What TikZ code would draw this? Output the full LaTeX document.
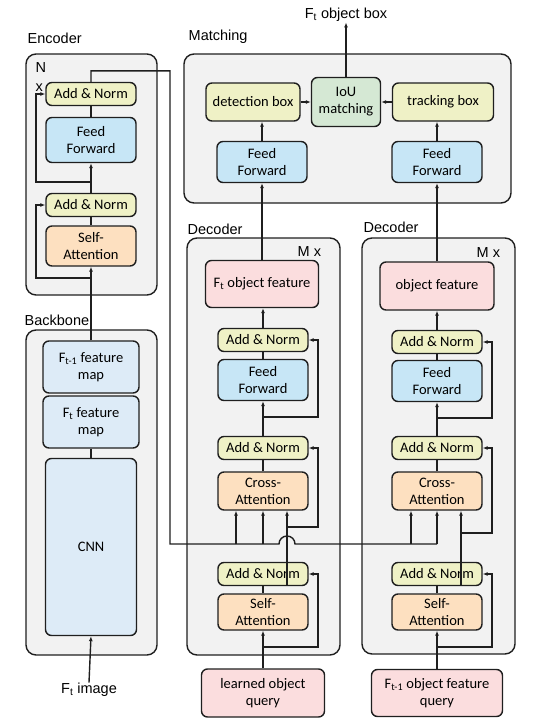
\documentclass[tikz,border=0pt]{standalone}
\usepackage{fontspec}
\setmainfont{Carlito}
\newfontfamily\labfont{Liberation Sans}
\usetikzlibrary{arrows.meta}
\definecolor{lineblk}{HTML}{1F1F1F}
\definecolor{grpgrey}{HTML}{F2F2F2}
\definecolor{anyellow}{HTML}{EFF1C6}
\definecolor{ffblue}{HTML}{C7E6F6}
\definecolor{attpeach}{HTML}{FDE0C0}
\definecolor{mapblue}{HTML}{DDEBF7}
\definecolor{featpink}{HTML}{FBDDDE}
\definecolor{iougreen}{HTML}{D5E8D4}

\begin{document}
\begin{tikzpicture}[x=1pt,y=-1pt,line width=1.4pt,draw=lineblk,
  every node/.style={font=\fontsize{14.5}{17}\selectfont,align=center,text=black},
  group/.style={draw=lineblk,fill=grpgrey,rounded corners=10pt,inner sep=0pt},
  grouplabel/.style={font=\labfont\fontsize{14.5}{19}\selectfont,anchor=west,inner sep=0pt},
  box/.style={draw=lineblk,rounded corners=6pt,inner sep=0pt,minimum width=90pt},
  addnorm/.style={box,fill=anyellow,minimum height=23pt},
  ffwd/.style={box,fill=ffblue,minimum height=41pt},
  attn/.style={box,fill=attpeach,minimum height=38pt},
  fmap/.style={box,fill=mapblue,minimum width=96pt,minimum height=52pt},
  feat/.style={box,fill=featpink,minimum height=47pt},
  arr/.style={-{Latex[length=5pt,width=4pt]}}]
\useasboundingbox (0,0) rectangle (554,728);

% containers
\node[group,minimum width=131pt,minimum height=241pt] (enc) at (91.5,174.5) {};
\node[group,minimum width=131pt,minimum height=325pt] (bb) at (91.5,492.5) {};
\node[group,minimum width=327pt,minimum height=149pt] (match) at (347.5,128.5) {};
\node[group,minimum width=153pt,minimum height=417pt] (decl) at (263.5,446.5) {};
\node[group,minimum width=153pt,minimum height=416pt] (decr) at (438.5,446) {};

\node[grouplabel] (enclab) at (27,38) {Encoder};
\node[grouplabel] (bblab) at (24,320) {Backbone};
\node[grouplabel] (matchlab) at (188,37) {Matching};
\node[grouplabel] (decllab) at (187,229) {Decoder};
\node[grouplabel] (decrlab) at (363,227) {Decoder};
\node[grouplabel,align=left,anchor=north west] (encn) at (35,62) {N\\x};
\node[grouplabel] (declm) at (297,252) {M x};
\node[grouplabel] (decrm) at (476,253) {M x};

% encoder
\node[addnorm] (encan2) at (91,94) {Add \& Norm};
\node[ffwd,minimum height=45pt] (encff) at (91,140) {Feed\\Forward};
\node[addnorm] (encan1) at (91,205) {Add \& Norm};
\node[attn,minimum height=40pt] (encsa) at (91,246) {Self-\\Attention};

% backbone
\node[fmap] (fm1) at (91,367) {F\textsubscript{t-1} feature\\map};
\node[fmap] (fm0) at (91,422) {F\textsubscript{t} feature\\map};
\node[box,fill=mapblue,minimum width=91pt,minimum height=177pt] (cnn) at (91,547) {CNN};
\node[grouplabel,anchor=center] (img) at (89,690) {F\textsubscript{t} image};

% matching
\node[box,fill=anyellow,minimum width=94pt,minimum height=38pt] (det) at (253,102) {detection box};
\node[box,fill=iougreen,minimum width=69pt,minimum height=49pt] (iou) at (346,102) {IoU\\matching};
\node[box,fill=anyellow,minimum width=101pt,minimum height=38pt] (trk) at (443,102) {tracking box};
\node[ffwd] (mffl) at (262,162) {Feed\\Forward};
\node[ffwd] (mffr) at (437,162) {Feed\\Forward};
\node[grouplabel,anchor=center] (outbox) at (346,15) {F\textsubscript{t} object box};

% left decoder
\node[feat,minimum width=113pt] (lof) at (262,284) {F\textsubscript{t} object feature};
\node[addnorm] (lan1) at (263,340) {Add \& Norm};
\node[ffwd] (lff) at (263,380) {Feed\\Forward};
\node[addnorm] (lan2) at (263,448) {Add \& Norm};
\node[attn] (lca) at (263,491) {Cross-\\Attention};
\node[addnorm] (lan3) at (263,574) {Add \& Norm};
\node[attn,minimum height=36pt] (lsa) at (263,612) {Self-\\Attention};
\node[feat,minimum width=123pt,minimum height=48pt] (lq) at (263,693) {learned object\\query};

% right decoder
\node[feat,minimum width=114pt,minimum height=48pt] (rof) at (437,286) {object feature};
\node[addnorm] (ran1) at (437,342) {Add \& Norm};
\node[ffwd] (rff) at (437,381) {Feed\\Forward};
\node[addnorm] (ran2) at (437,448) {Add \& Norm};
\node[attn] (rca) at (437,491) {Cross-\\Attention};
\node[addnorm] (ran3) at (437,574) {Add \& Norm};
\node[attn,minimum height=36pt] (rsa) at (437,612) {Self-\\Attention};
\node[feat,minimum width=131pt] (rq) at (437,693) {F\textsubscript{t-1} object feature\\query};

% residual taps and bus
\coordinate (encr1) at (91,278);
\coordinate (encr2) at (91,182);
\coordinate (bus) at (170,544);
\coordinate (lt1) at (236,544);
\coordinate (lt2) at (263,544);
\coordinate (rt1) at (411,544);
\coordinate (rt2) at (437,544);
\coordinate (lx) at (287,585.5);
\coordinate (rx) at (461,585.5);
\coordinate (lr1) at (263,417);
\coordinate (lr2) at (287,527);
\coordinate (lr3) at (263,647);
\coordinate (rr1) at (437,418);
\coordinate (rr2) at (461,533);
\coordinate (rr3) at (437,647);

% encoder + backbone wiring
\draw[arr] (img.north) -- (cnn.south);
\draw (fm0.south) -- (cnn.north);
\draw[arr] (fm1.north) -- (encsa.south);
\draw[arr] (encr1) -- (36,278) |- (encan1.west);
\draw (encsa.north) -- (encan1.south);
\draw[arr] (encan1.north) -- (encff.south);
\draw[arr] (encr2) -- (36,182) |- (encan2.west);
\draw (encff.north) -- (encan2.south);
\draw (encan2.north) -- ++(0,-11) -| (bus) -- (279,544)
  arc[start angle=180,end angle=0,radius=8pt] -- (rt2);
\draw[arr] (lt1) -- (lt1 |- lca.south);
\draw[arr] (lt2) -- (lca.south);
\draw[arr] (rt1) -- (rt1 |- rca.south);
\draw[arr] (rt2) -- (rca.south);

% left decoder wiring
\draw[arr] (lq.north) -- (lsa.south);
\draw[arr] (lr3) -- ++(55,0) |- (lan3.east);
\draw (lsa.north) -- (lan3.south);
\draw[arr] (lx) -- (lx |- lca.south);
\draw[arr] (lr2) -- ++(31,0) |- (lan2.east);
\draw (lca.north) -- (lan2.south);
\draw[arr] (lan2.north) -- (lff.south);
\draw[arr] (lr1) -- ++(55,0) |- (lan1.east);
\draw (lff.north) -- (lan1.south);
\draw[arr] (lan1.north) -- (lan1.north |- lof.south);
\draw[arr] (lof.north) -- (mffl.south);

% right decoder wiring
\draw[arr] (rq.north) -- (rsa.south);
\draw[arr] (rr3) -- ++(55,0) |- (ran3.east);
\draw (rsa.north) -- (ran3.south);
\draw[arr] (rx) -- (rx |- rca.south);
\draw[arr] (rr2) -- ++(31,0) |- (ran2.east);
\draw (rca.north) -- (ran2.south);
\draw[arr] (ran2.north) -- (rff.south);
\draw[arr] (rr1) -- ++(55,0) |- (ran1.east);
\draw (rff.north) -- (ran1.south);
\draw[arr] (ran1.north) -- (ran1.north |- rof.south);
\draw[arr] (rof.north) -- (mffr.south);

% matching wiring
\draw[arr] (mffl.north) -- (mffl.north |- det.south);
\draw[arr] (mffr.north) -- (mffr.north |- trk.south);
\draw[arr] (det.east) -- (iou.west);
\draw[arr] (trk.west) -- (iou.east);
\draw[arr] (iou.north) -- (outbox.south);
\end{tikzpicture}
\end{document}
